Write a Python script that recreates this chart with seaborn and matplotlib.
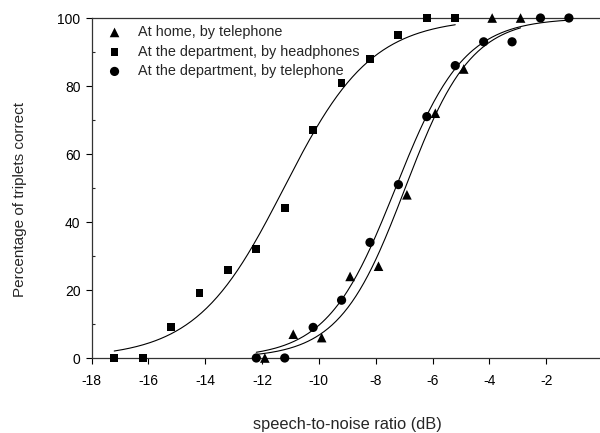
import numpy as np
import pandas as pd
import matplotlib
matplotlib.use("Agg")
import matplotlib.pyplot as plt
import seaborn as sns

# Speech-in-noise triplet test: percentage correct per SNR step
home_tel_snr = [-11.9, -10.9, -9.9, -8.9, -7.9, -6.9, -5.9, -4.9, -3.9, -2.9]
home_tel_pct = [0, 7, 6, 24, 27, 48, 72, 85, 100, 100]

dept_head_snr = [-17.2, -16.2, -15.2, -14.2, -13.2, -12.2, -11.2, -10.2,
                 -9.2, -8.2, -7.2, -6.2, -5.2]
dept_head_pct = [0, 0, 9, 19, 26, 32, 44, 67, 81, 88, 95, 100, 100]

dept_tel_snr = [-12.2, -11.2, -10.2, -9.2, -8.2, -7.2, -6.2, -5.2,
                -4.2, -3.2, -2.2, -1.2]
dept_tel_pct = [0, 0, 9, 17, 34, 51, 71, 86, 93, 93, 100, 100]

labels = ["At home, by telephone",
          "At the department, by headphones",
          "At the department, by telephone"]
xticks = [-18, -16, -14, -12, -10, -8, -6, -4, -2, 0]
yticks = [0, 20, 40, 60, 80, 100]

frames = []
for lab, xs, ys in zip(labels,
                       [home_tel_snr, dept_head_snr, dept_tel_snr],
                       [home_tel_pct, dept_head_pct, dept_tel_pct]):
    frames.append(pd.DataFrame({"condition": lab, "snr": xs, "pct": ys}))
df = pd.concat(frames, ignore_index=True)


def fit_logistic(x, y):
    """Least-squares logistic psychometric fit (midpoint, spread) by grid search."""
    x = np.asarray(x, float)
    y = np.asarray(y, float)
    mids = np.arange(-16.0, -2.0, 0.01)
    spreads = np.arange(0.4, 3.0, 0.005)
    M, S = np.meshgrid(mids, spreads, indexing="ij")
    pred = 100.0 / (1.0 + np.exp(-(x[None, None, :] - M[..., None]) / S[..., None]))
    sse = ((pred - y[None, None, :]) ** 2).sum(axis=-1)
    i, j = np.unravel_index(np.argmin(sse), sse.shape)
    return mids[i], spreads[j]


sns.set_style("ticks")
plt.rcParams["font.family"] = ["Liberation Sans", "DejaVu Sans"]
plt.rcParams["font.size"] = 10

fig = plt.figure(figsize=(6.0, 4.33), dpi=100)
ax = fig.add_axes([0.1525, 0.1732, 0.8525, 0.7852])

styles = {
    labels[0]: dict(marker="^", s=48),
    labels[1]: dict(marker="s", s=32),
    labels[2]: dict(marker="o", s=44),
}

# Fitted curves, spanning each condition's tested range
curve_ranges = {
    labels[0]: (-12.2, -2.9),
    labels[1]: (-17.2, -5.2),
    labels[2]: (-12.2, -1.2),
}
for lab in labels:
    sub = df[df["condition"] == lab]
    m, s = fit_logistic(sub["snr"], sub["pct"])
    lo, hi = curve_ranges[lab]
    xs = np.linspace(lo, hi, 200)
    ys = 100.0 / (1.0 + np.exp(-(xs - m) / s))
    sns.lineplot(x=xs, y=ys, color="black", lw=0.8, ax=ax, legend=False)

for lab in labels:
    sub = df[df["condition"] == lab]
    sns.scatterplot(data=sub, x="snr", y="pct", color="black",
                    edgecolor="none", linewidth=0, label=lab, ax=ax,
                    clip_on=False, zorder=5, **styles[lab])

ax.set_xlim(-18, 0)
ax.set_ylim(0, 100)
ax.set_xticks(xticks)
ax.set_xticklabels([str(t) for t in xticks])
ax.set_yticks(yticks)
ax.set_yticks([10, 30, 50, 70, 90], minor=True)

for sp in ax.spines.values():
    sp.set_visible(True)
    sp.set_linewidth(0.9)
    sp.set_color("#333333")

ax.tick_params(axis="x", which="major", direction="out", length=4.5, width=0.8,
               pad=7, labelsize=10, colors="black")
ax.tick_params(axis="y", which="major", direction="out", length=4, width=0.8,
               pad=4, labelsize=10, colors="black", right=True)
ax.tick_params(axis="y", which="minor", direction="in", length=2.5, width=0.8,
               left=True, right=True)

ax.set_xlabel("speech-to-noise ratio (dB)", fontsize=11.8, labelpad=21)
ax.set_ylabel("Percentage of triplets correct", fontsize=11)
ax.yaxis.set_label_coords(-0.127, 0.465)

leg = ax.legend(loc="upper left", bbox_to_anchor=(0.014, 1.0), frameon=False,
                fontsize=10.4, handletextpad=1.0, labelspacing=0.38,
                borderaxespad=0.1, handlelength=1.2)

fig.savefig("out.png", dpi=100)
